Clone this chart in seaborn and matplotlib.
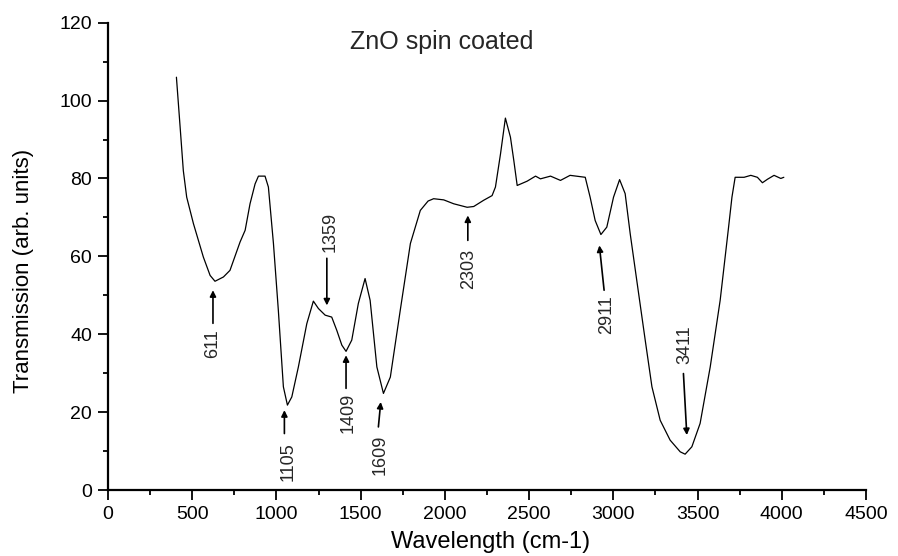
import pandas as pd
import seaborn as sns
import matplotlib.pyplot as plt
from matplotlib.ticker import MultipleLocator


# FTIR spectrum
wavenumber = [406, 428, 447, 467, 507, 566, 606, 635, 685, 724, 784, 814, 843, 873,
              893, 932, 952, 982, 1011, 1041, 1065, 1091, 1130, 1180, 1219, 1249,
              1289, 1328, 1358, 1388, 1413, 1447, 1486, 1526, 1556, 1596, 1635, 1676,
              1735, 1795, 1854, 1900, 1933, 1993, 2052, 2132, 2171, 2230, 2280, 2300,
              2330, 2359, 2389, 2409, 2429, 2488, 2538, 2567, 2627, 2686, 2743, 2833,
              2862, 2892, 2926, 2961, 3001, 3037, 3070, 3100, 3139, 3189, 3229, 3278,
              3337, 3397, 3426, 3466, 3515, 3575, 3634, 3684, 3704, 3723, 3776, 3816,
              3855, 3885, 3915, 3954, 3994, 4012]
transmission = [106.0, 93.2, 82.0, 75.2, 68.4, 59.8, 55.1, 53.6, 54.7, 56.4, 63.7, 66.7, 73.5, 78.6,
                80.6, 80.6, 77.8, 63.3, 46.2, 26.5, 21.8, 23.9, 31.6, 42.7, 48.5, 46.6,
                44.9, 44.4, 41.0, 37.2, 35.6, 38.5, 47.9, 54.3, 48.7, 31.6, 24.8, 29.0,
                46.2, 63.3, 71.8, 74.2, 74.8, 74.5, 73.5, 72.6, 72.8, 74.4, 75.6, 77.8,
                86.3, 95.5, 90.6, 84.6, 78.2, 79.3, 80.6, 79.9, 80.6, 79.5, 80.8, 80.3,
                75.2, 69.2, 65.6, 67.5, 75.2, 79.7, 76.1, 65.8, 53.8, 38.5, 26.5, 17.9,
                12.8, 9.8, 9.2, 11.1, 17.1, 31.6, 48.7, 67.5, 75.2, 80.3, 80.3, 80.8,
                80.3, 78.9, 79.8, 80.8, 80.0, 80.3]

# peak labels: text, text x, text y, arrow tail (x, y), arrow head (x, y)
peak_labels = ['611', '1105', '1359', '1409', '1609', '2303', '2911', '3411']
label_x = [623, 1071, 1318, 1427, 1615, 2140, 2961, 3426]
label_y = [37.6, 7.3, 66.3, 19.7, 9.0, 56.8, 45.1, 37.4]
tail_x = [623, 1047, 1299, 1413, 1605, 2136, 2945, 3416]
tail_y = [42.8, 14.5, 59.5, 26.1, 16.2, 64.1, 51.3, 29.9]
head_x = [623, 1047, 1299, 1413, 1619, 2136, 2917, 3436]
head_y = [51.3, 20.5, 47.4, 34.6, 22.6, 70.5, 62.8, 14.1]

df = pd.DataFrame({'Wavelength': wavenumber, 'Transmission': transmission})

sns.set_theme(style='ticks')
plt.rcParams['font.family'] = ['Liberation Sans', 'DejaVu Sans']

fig, ax = plt.subplots(figsize=(8.98, 5.56), dpi=100)
fig.subplots_adjust(left=0.1203, right=0.9644, bottom=0.1187, top=0.9592)

sns.lineplot(data=df, x='Wavelength', y='Transmission', ax=ax, color='black',
             linewidth=0.9, sort=False)

ax.set_xlim(0, 4500)
ax.set_ylim(0, 120)
ax.xaxis.set_major_locator(MultipleLocator(500))
ax.xaxis.set_minor_locator(MultipleLocator(250))
ax.yaxis.set_major_locator(MultipleLocator(20))
ax.yaxis.set_minor_locator(MultipleLocator(10))
ax.tick_params(which='major', length=7.5, width=1.3, labelsize=14, colors='black', pad=4)
ax.tick_params(which='minor', length=3.8, width=1.3, colors='black')

for side in ['top', 'right']:
    ax.spines[side].set_visible(False)
for side in ['left', 'bottom']:
    ax.spines[side].set_linewidth(1.6)
    ax.spines[side].set_color('black')

ax.set_xlabel('Wavelength (cm-1)', fontsize=17, color='black')
ax.set_ylabel('Transmission (arb. units)', fontsize=16, color='black')
ax.xaxis.set_label_coords(0.505, -0.088)
ax.yaxis.set_label_coords(-0.098, 0.469)

ax.text(1983, 113.3, 'ZnO spin coated', fontsize=18, ha='center', va='baseline')

for i in range(len(peak_labels)):
    ax.annotate('', xy=(head_x[i], head_y[i]), xytext=(tail_x[i], tail_y[i]),
                arrowprops=dict(arrowstyle='-|>', color='black', lw=1.2,
                                mutation_scale=9, shrinkA=0, shrinkB=0))
    ax.text(label_x[i], label_y[i], peak_labels[i], rotation=90, fontsize=13,
            ha='center', va='center')

plt.savefig('out.png', dpi=100)
